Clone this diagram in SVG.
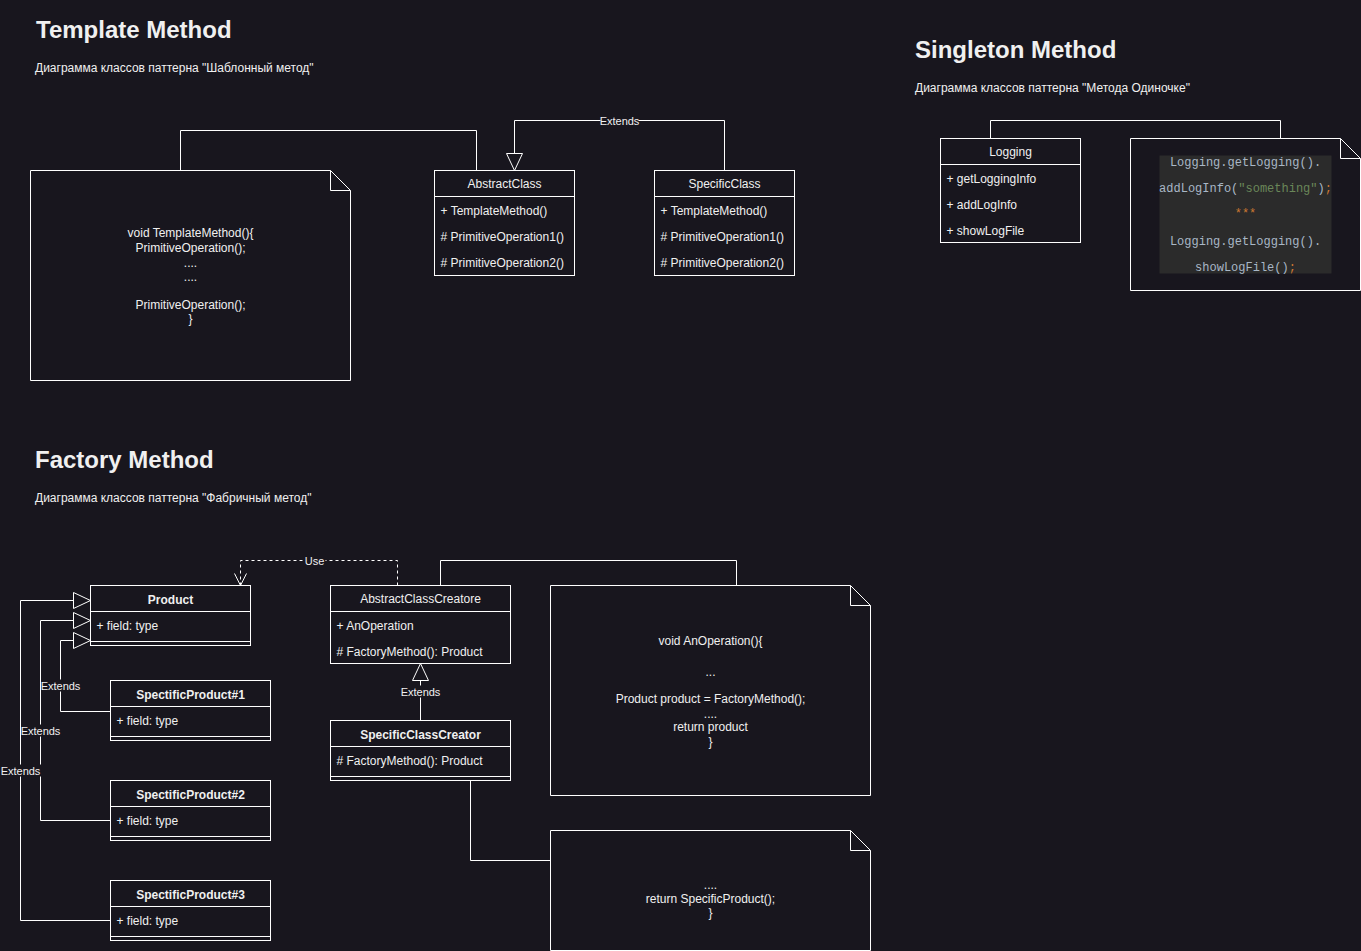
<svg xmlns="http://www.w3.org/2000/svg" width="1361" height="951" viewBox="0 0 1361 951">
<defs>
<style>
.bg{fill:#18161e}
.box{fill:#18161e;stroke:#ffffff;stroke-width:1}
.ln{fill:none;stroke:#ffffff;stroke-width:1}
.dash{fill:none;stroke:#ffffff;stroke-width:1;stroke-dasharray:3 3}
text{font-family:"Liberation Sans",Arial,sans-serif;fill:#f0f0f0}
.t{font-size:24px;font-weight:bold}
.s{font-size:12px}
.c{font-size:12px;text-anchor:middle}
.cb{font-size:12px;text-anchor:middle;font-weight:bold}
.m{font-size:12px}
.lbl{font-size:11px;text-anchor:middle}
.code{font-family:"Liberation Mono","Courier New",monospace;font-size:12px;text-anchor:middle;fill:#a9b7c6}
.str{fill:#6a8759}
.kw{fill:#cc7832}
</style>
<marker id="tri" viewBox="0 0 20 20" refX="18" refY="10" markerWidth="20" markerHeight="20" markerUnits="userSpaceOnUse" orient="auto">
<path d="M1,2 L18,10 L1,18 Z" fill="#18161e" stroke="#ffffff" stroke-width="1"/>
</marker>
<marker id="open" viewBox="0 0 14 14" refX="13" refY="7" markerWidth="14" markerHeight="14" markerUnits="userSpaceOnUse" orient="auto">
<path d="M1,1 L13,7 L1,13" fill="none" stroke="#ffffff" stroke-width="1"/>
</marker>
</defs>
<rect class="bg" x="0" y="0" width="1361" height="951"/>

<g id="titles">
<text class="t" x="36" y="38">Template Method</text>
<text class="s" x="35" y="72">Диаграмма классов паттерна "Шаблонный метод"</text>
<text class="t" x="915" y="58">Singleton Method</text>
<text class="s" x="915" y="92">Диаграмма классов паттерна "Метода Одиночке"</text>
<text class="t" x="35" y="468">Factory Method</text>
<text class="s" x="35" y="502">Диаграмма классов паттерна "Фабричный метод"</text>
</g>

<g transform="translate(0.5,0.5)">
<g id="connectors">
<path class="ln" d="M180,170 V130 H476 V170"/>
<path class="ln" d="M724,170 V120 H514 V170" marker-end="url(#tri)"/>
<rect x="600" y="114" width="38" height="12" class="bg"/>
<text class="lbl" x="619" y="124">Extends</text>
<path class="ln" d="M990,138 V120 H1280 V138"/>
<path class="ln" d="M110,711 H60 V640 H90" marker-end="url(#tri)"/>
<path class="ln" d="M110,820 H40 V620 H90" marker-end="url(#tri)"/>
<path class="ln" d="M110,920 H20 V600 H90" marker-end="url(#tri)"/>
<rect x="41" y="679" width="40" height="12" class="bg"/>
<text class="lbl" x="60" y="689">Extends</text>
<rect x="21" y="724" width="40" height="12" class="bg"/>
<text class="lbl" x="40" y="734">Extends</text>
<rect x="1" y="764" width="40" height="12" class="bg"/>
<text class="lbl" x="20" y="774">Extends</text>
<path class="dash" d="M397,585 V560 H240 V585" marker-end="url(#open)"/>
<rect x="303" y="554" width="22" height="12" class="bg"/>
<text class="lbl" x="314" y="564">Use</text>
<path class="ln" d="M420,720 V663" marker-end="url(#tri)"/>
<rect x="400" y="685" width="40" height="12" class="bg"/>
<text class="lbl" x="420" y="695">Extends</text>
<path class="ln" d="M440,585 V560 H736 V585"/>
<path class="ln" d="M470,780 V860 H550"/>
</g>

<g id="note-template">
<path class="box" d="M30,170 H330 L350,190 V380 H30 Z"/>
<path class="ln" d="M330,170 V190 H350"/>
<text class="c" x="190" y="236">void TemplateMethod(){</text>
<text class="c" x="190" y="251">PrimitiveOperation();</text>
<text class="c" x="190" y="266">....</text>
<text class="c" x="190" y="280">....</text>
<text class="c" x="190" y="308">PrimitiveOperation();</text>
<text class="c" x="190" y="322">}</text>
</g>

<g id="AbstractClass">
<rect class="box" x="434" y="170" width="140" height="105"/>
<line class="ln" x1="434" y1="196" x2="574" y2="196"/>
<text class="c" x="504" y="187">AbstractClass</text>
<text class="m" x="440" y="214">+ TemplateMethod()</text>
<text class="m" x="440" y="240"># PrimitiveOperation1()</text>
<text class="m" x="440" y="266"># PrimitiveOperation2()</text>
</g>

<g id="SpecificClass">
<rect class="box" x="654" y="170" width="140" height="105"/>
<line class="ln" x1="654" y1="196" x2="794" y2="196"/>
<text class="c" x="724" y="187">SpecificClass</text>
<text class="m" x="660" y="214">+ TemplateMethod()</text>
<text class="m" x="660" y="240"># PrimitiveOperation1()</text>
<text class="m" x="660" y="266"># PrimitiveOperation2()</text>
</g>

<g id="Logging">
<rect class="box" x="940" y="138" width="140" height="104"/>
<line class="ln" x1="940" y1="164" x2="1080" y2="164"/>
<text class="c" x="1010" y="155">Logging</text>
<text class="m" x="946" y="182">+ getLoggingInfo</text>
<text class="m" x="946" y="208">+ addLogInfo</text>
<text class="m" x="946" y="234">+ showLogFile</text>
</g>

<g id="note-singleton">
<path class="box" d="M1130,138 H1340 L1360,158 V290 H1130 Z"/>
<path class="ln" d="M1340,138 V158 H1360"/>
<rect x="1159" y="155" width="172" height="118" fill="#2b2b2b"/>
<text class="code" x="1245" y="165">Logging.getLogging().</text>
<text class="code" x="1245" y="191">addLogInfo(<tspan class="str">"something"</tspan>)<tspan class="kw">;</tspan></text>
<text class="code kw" x="1245" y="216">***</text>
<text class="code" x="1245" y="244">Logging.getLogging().</text>
<text class="code" x="1245" y="270">showLogFile()<tspan class="kw">;</tspan></text>
</g>

<g id="Product">
<rect class="box" x="90" y="585" width="160" height="60"/>
<line class="ln" x1="90" y1="611" x2="250" y2="611"/>
<line class="ln" x1="90" y1="641" x2="250" y2="641"/>
<text class="cb" x="170" y="603">Product</text>
<text class="m" x="96" y="629">+ field: type</text>
</g>

<g id="SpectificProduct1">
<rect class="box" x="110" y="680" width="160" height="60"/>
<line class="ln" x1="110" y1="706" x2="270" y2="706"/>
<line class="ln" x1="110" y1="736" x2="270" y2="736"/>
<text class="cb" x="190" y="698">SpectificProduct#1</text>
<text class="m" x="116" y="724">+ field: type</text>
</g>

<g id="SpectificProduct2">
<rect class="box" x="110" y="780" width="160" height="60"/>
<line class="ln" x1="110" y1="806" x2="270" y2="806"/>
<line class="ln" x1="110" y1="836" x2="270" y2="836"/>
<text class="cb" x="190" y="798">SpectificProduct#2</text>
<text class="m" x="116" y="824">+ field: type</text>
</g>

<g id="SpectificProduct3">
<rect class="box" x="110" y="880" width="160" height="60"/>
<line class="ln" x1="110" y1="906" x2="270" y2="906"/>
<line class="ln" x1="110" y1="936" x2="270" y2="936"/>
<text class="cb" x="190" y="898">SpectificProduct#3</text>
<text class="m" x="116" y="924">+ field: type</text>
</g>

<g id="AbstractClassCreatore">
<rect class="box" x="330" y="585" width="180" height="78"/>
<line class="ln" x1="330" y1="611" x2="510" y2="611"/>
<text class="c" x="420" y="602">AbstractClassCreatore</text>
<text class="m" x="336" y="629">+ AnOperation</text>
<text class="m" x="336" y="655"># FactoryMethod(): Product</text>
</g>

<g id="SpecificClassCreator">
<rect class="box" x="330" y="720" width="180" height="60"/>
<line class="ln" x1="330" y1="746" x2="510" y2="746"/>
<line class="ln" x1="330" y1="776" x2="510" y2="776"/>
<text class="cb" x="420" y="738">SpecificClassCreator</text>
<text class="m" x="336" y="764"># FactoryMethod(): Product</text>
</g>

<g id="note-anoperation">
<path class="box" d="M550,585 H850 L870,605 V795 H550 Z"/>
<path class="ln" d="M850,585 V605 H870"/>
<text class="c" x="710" y="644">void AnOperation(){</text>
<text class="c" x="710" y="675">...</text>
<text class="c" x="710" y="702">Product product = FactoryMethod();</text>
<text class="c" x="710" y="717">....</text>
<text class="c" x="710" y="730">return product</text>
<text class="c" x="710" y="745">}</text>
</g>

<g id="note-factory">
<path class="box" d="M550,830 H850 L870,850 V950 H550 Z"/>
<path class="ln" d="M850,830 V850 H870"/>
<text class="c" x="710" y="888">....</text>
<text class="c" x="710" y="902">return SpecificProduct();</text>
<text class="c" x="710" y="916">}</text>
</g>
</g>
</svg>
